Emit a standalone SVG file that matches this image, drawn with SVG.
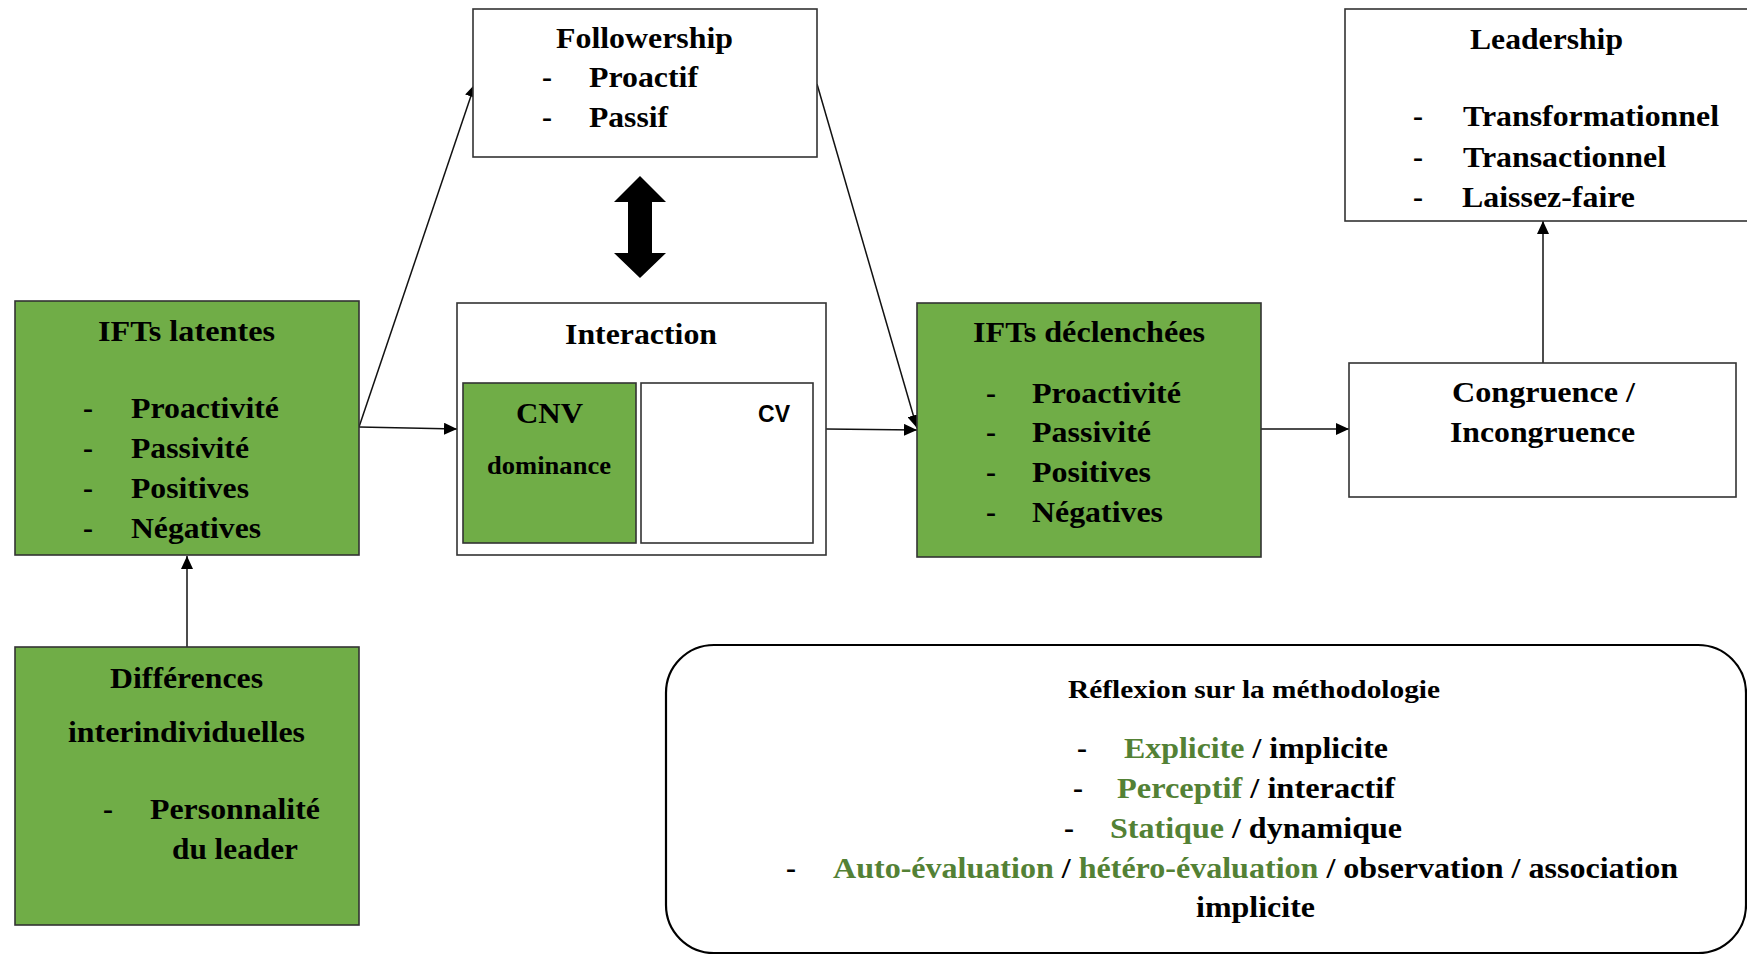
<svg xmlns="http://www.w3.org/2000/svg" width="1747" height="955" viewBox="0 0 1747 955">
<defs>
<style>
.box{stroke:#333;stroke-width:1.6;}
.g{fill:#70AD47;}
.w{fill:#fff;}
text{font-family:"Liberation Serif","Times New Roman",serif;font-weight:bold;font-size:30px;fill:#000;}
.sm{font-size:25px;}
.sans{font-family:"Liberation Sans",Arial,sans-serif;font-size:24px;}
.gr{fill:#538135;}
.ln{stroke:#111;stroke-width:1.5;fill:none;marker-end:url(#ah);}
</style>
<marker id="ah" markerUnits="userSpaceOnUse" markerWidth="14" markerHeight="12" refX="13" refY="6" orient="auto">
<path d="M0,0 L13,6 L0,12 z" fill="#000"/>
</marker>
</defs>
<rect width="1747" height="955" fill="#fff"/>

<g id="connectors">
<line class="ln" x1="359" y1="427" x2="475" y2="84"/>
<line class="ln" x1="817" y1="84" x2="917" y2="428"/>
<line class="ln" x1="359" y1="427" x2="457" y2="429"/>
<line class="ln" x1="826" y1="429" x2="917" y2="430"/>
<line class="ln" x1="1261" y1="429" x2="1349" y2="429"/>
<line class="ln" x1="1543" y1="363" x2="1543" y2="221"/>
<line class="ln" x1="187" y1="647" x2="187" y2="556"/>
<polygon points="640,176 666,202 652,202 652,253 666,253 640,278 614,253 628,253 628,202 614,202" fill="#000"/>
</g>

<g id="followership">
<rect class="box w" x="473" y="9" width="344" height="148"/>
<text x="556" y="48" textLength="177" lengthAdjust="spacingAndGlyphs">Followership</text>
<text x="542" y="87">-</text>
<text x="589" y="87" textLength="109" lengthAdjust="spacingAndGlyphs">Proactif</text>
<text x="542" y="127">-</text>
<text x="589" y="127" textLength="79" lengthAdjust="spacingAndGlyphs">Passif</text>
</g>

<g id="leadership">
<rect class="box w" x="1345" y="9" width="410" height="212"/>
<text x="1470" y="49" textLength="153" lengthAdjust="spacingAndGlyphs">Leadership</text>
<text x="1413" y="126">-</text>
<text x="1463" y="126" textLength="256" lengthAdjust="spacingAndGlyphs">Transformationnel</text>
<text x="1413" y="167">-</text>
<text x="1463" y="167" textLength="203" lengthAdjust="spacingAndGlyphs">Transactionnel</text>
<text x="1413" y="207">-</text>
<text x="1462" y="207" textLength="173" lengthAdjust="spacingAndGlyphs">Laissez-faire</text>
</g>

<g id="ifts-latentes">
<rect class="box g" x="15" y="301" width="344" height="254"/>
<text x="98" y="341" textLength="177" lengthAdjust="spacingAndGlyphs">IFTs latentes</text>
<text x="83" y="418">-</text>
<text x="131" y="418" textLength="148" lengthAdjust="spacingAndGlyphs">Proactivité</text>
<text x="83" y="458">-</text>
<text x="131" y="458" textLength="118" lengthAdjust="spacingAndGlyphs">Passivité</text>
<text x="83" y="498">-</text>
<text x="131" y="498" textLength="118" lengthAdjust="spacingAndGlyphs">Positives</text>
<text x="83" y="538">-</text>
<text x="131" y="538" textLength="130" lengthAdjust="spacingAndGlyphs">Négatives</text>
</g>

<g id="interaction">
<rect class="box w" x="457" y="303" width="369" height="252"/>
<text x="565" y="344" textLength="152" lengthAdjust="spacingAndGlyphs">Interaction</text>
</g>

<g id="cnv">
<rect class="box g" x="463" y="383" width="173" height="160"/>
<text x="516" y="423" textLength="67" lengthAdjust="spacingAndGlyphs">CNV</text>
<text class="sm" x="487" y="474" textLength="124" lengthAdjust="spacingAndGlyphs">dominance</text>
</g>

<g id="cv">
<rect class="box w" x="641" y="383" width="172" height="160"/>
<text class="sans" x="758" y="422" textLength="32" lengthAdjust="spacingAndGlyphs">CV</text>
</g>

<g id="ifts-declenchees">
<rect class="box g" x="917" y="303" width="344" height="254"/>
<text x="973" y="342" textLength="232" lengthAdjust="spacingAndGlyphs">IFTs déclenchées</text>
<text x="986" y="403">-</text>
<text x="1032" y="403" textLength="149" lengthAdjust="spacingAndGlyphs">Proactivité</text>
<text x="986" y="442">-</text>
<text x="1032" y="442" textLength="119" lengthAdjust="spacingAndGlyphs">Passivité</text>
<text x="986" y="482">-</text>
<text x="1032" y="482" textLength="119" lengthAdjust="spacingAndGlyphs">Positives</text>
<text x="986" y="522">-</text>
<text x="1032" y="522" textLength="131" lengthAdjust="spacingAndGlyphs">Négatives</text>
</g>

<g id="congruence">
<rect class="box w" x="1349" y="363" width="387" height="134"/>
<text x="1452" y="402" textLength="183" lengthAdjust="spacingAndGlyphs">Congruence /</text>
<text x="1450" y="442" textLength="185" lengthAdjust="spacingAndGlyphs">Incongruence</text>
</g>

<g id="differences">
<rect class="box g" x="15" y="647" width="344" height="278"/>
<text x="110" y="688" textLength="153" lengthAdjust="spacingAndGlyphs">Différences</text>
<text x="68" y="742" textLength="237" lengthAdjust="spacingAndGlyphs">interindividuelles</text>
<text x="103" y="819">-</text>
<text x="150" y="819" textLength="170" lengthAdjust="spacingAndGlyphs">Personnalité</text>
<text x="172" y="859" textLength="126" lengthAdjust="spacingAndGlyphs">du leader</text>
</g>

<g id="methodologie">
<rect x="666" y="645" width="1080" height="308" rx="48" ry="48" fill="#fff" stroke="#000" stroke-width="2.2"/>
<text class="sm" x="1068" y="698" textLength="372" lengthAdjust="spacingAndGlyphs">Réflexion sur la méthodologie</text>
<text x="1077" y="758">-</text>
<text x="1124" y="758" textLength="264" lengthAdjust="spacingAndGlyphs"><tspan class="gr">Explicite</tspan> / implicite</text>
<text x="1073" y="798">-</text>
<text x="1117" y="798" textLength="278" lengthAdjust="spacingAndGlyphs"><tspan class="gr">Perceptif</tspan> / interactif</text>
<text x="1064" y="838">-</text>
<text x="1110" y="838" textLength="292" lengthAdjust="spacingAndGlyphs"><tspan class="gr">Statique</tspan> / dynamique</text>
<text x="786" y="878">-</text>
<text x="833" y="878" textLength="845" lengthAdjust="spacingAndGlyphs"><tspan class="gr">Auto-évaluation</tspan> / <tspan class="gr">hétéro-évaluation</tspan> / observation / association</text>
<text x="1196" y="917" textLength="119" lengthAdjust="spacingAndGlyphs">implicite</text>
</g>
</svg>
